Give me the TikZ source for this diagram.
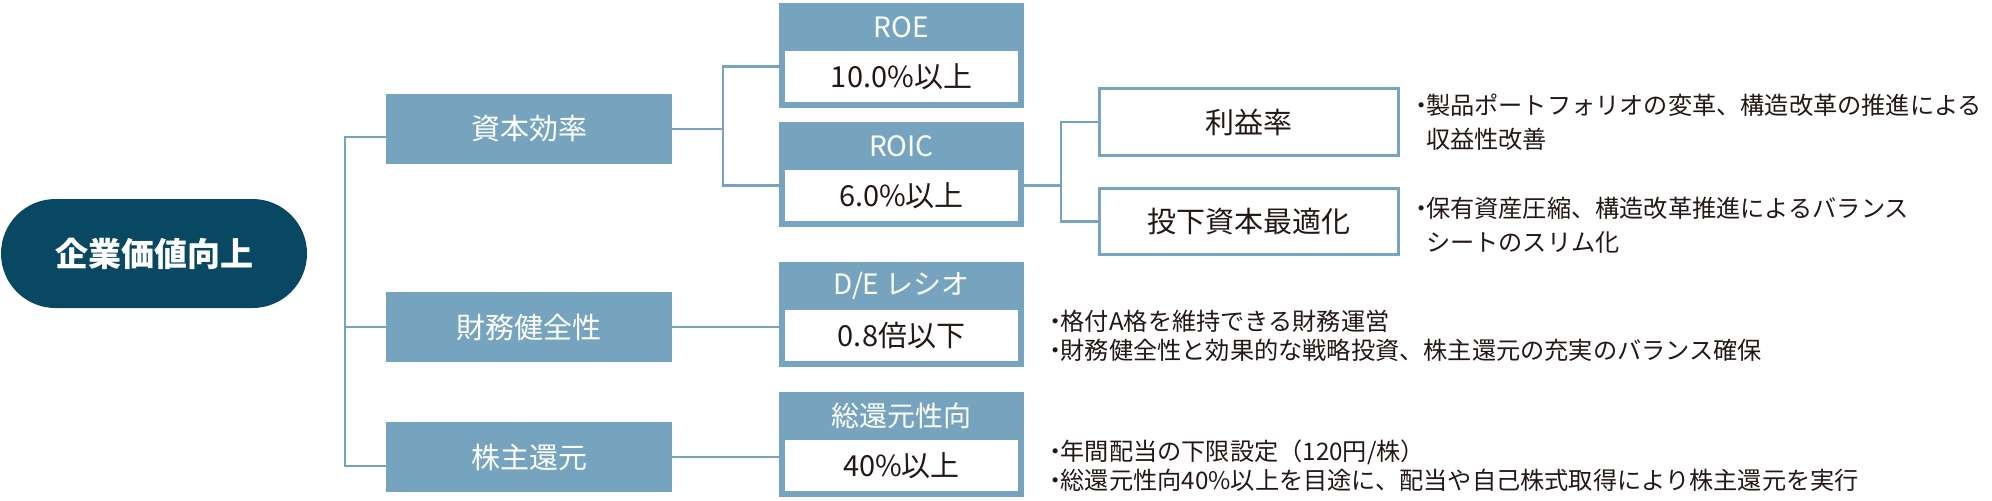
\documentclass[tikz,border=0pt]{standalone}
\usepackage{fontspec}
\setmainfont{Noto Sans CJK JP}
\usetikzlibrary{positioning}

\definecolor{navy}{RGB}{8,72,98}
\definecolor{steel}{RGB}{118,164,190}
\definecolor{ink}{RGB}{35,24,21}
\newcommand\notedot{\makebox[0.4em][c]{・}}

\begin{document}
\begin{tikzpicture}[x=0.5pt, y=-0.5pt,
	every node/.style={inner sep=0pt, outer sep=0pt},
	root/.style={fill=navy, text=white, rounded corners=27.25pt, minimum width=153pt, minimum height=54.5pt, font=\fontsize{16.5pt}{20pt}\selectfont\bfseries},
	pillar/.style={fill=steel, text=white, minimum width=143pt, minimum height=35pt, font=\fontsize{14.5pt}{17pt}\selectfont},
	kpihead/.style={fill=steel, text=white, minimum width=122.5pt, minimum height=24pt, font=\fontsize{14pt}{17pt}\selectfont},
	kpival/.style={draw=steel, fill=white, line width=3pt, text=ink, minimum width=119.5pt, minimum height=28.5pt, font=\fontsize{14.5pt}{17pt}\selectfont},
	lever/.style={draw=steel, line width=1.5pt, text=ink, minimum width=149.5pt, minimum height=33.25pt, font=\fontsize{14.5pt}{17pt}\selectfont},
	note/.style={text=ink, align=left, font=\fontsize{12.1pt}{17pt}\selectfont},
	tightnote/.style={note, font=\fontsize{12.1pt}{14.5pt}\selectfont},
	link/.style={draw=steel, line width=1.4pt}]

	\useasboundingbox (0,0) rectangle (1992,500);

	\node[root] (value) at (154,253.5) {企業価値向上};

	\node[pillar] (cap) at (529,129) {資本効率};
	\node[pillar] (fin) at (529,327) {財務健全性};
	\node[pillar] (ret) at (529,457) {株主還元};

	\node[kpihead] (roe) at (901.5,27) {ROE};
	\node[kpival] (roeval) at (901.5,76.5) {10.0\%以上};
	\node[kpihead] (roic) at (901.5,146) {ROIC};
	\node[kpival] (roicval) at (901.5,195.5) {6.0\%以上};
	\node[kpihead] (de) at (901.5,286) {D/E レシオ};
	\node[kpival] (deval) at (901.5,335.5) {0.8倍以下};
	\node[kpihead] (tsr) at (901.5,416) {総還元性向};
	\node[kpival] (tsrval) at (901.5,465.5) {40\%以上};

	\node[lever] (profit) at (1249,122) {利益率};
	\node[lever] (invest) at (1249,221.5) {投下資本最適化};

	\node[note, right=9pt of profit] (profitnote) {\notedot 製品ポートフォリオの変革、構造改革の推進による\\\hspace*{0.4em}収益性改善};
	\node[note, right=9pt of invest, yshift=-2pt] (investnote) {\notedot 保有資産圧縮、構造改革推進によるバランス\\\hspace*{0.4em}シートのスリム化};
	\node[tightnote, right=15pt of deval] (finnote) {\notedot 格付A格を維持できる財務運営\\\notedot 財務健全性と効果的な戦略投資、株主還元の充実のバランス確保};
	\node[tightnote, right=15pt of tsrval] (retnote) {\notedot 年間配当の下限設定（120円/株）\\\notedot 総還元性向40\%以上を目途に、配当や自己株式取得により株主還元を実行};

	\coordinate (trunk) at (345,0);
	\coordinate (split) at (723,0);
	\coordinate (split2) at (1061,0);
	\coordinate (capin) at ([yshift=-4pt]cap.west);
	\coordinate (retin) at ([yshift=-4.5pt]ret.west);
	\coordinate (roein) at ([yshift=5pt]roeval.west);
	\coordinate (roicin) at ([yshift=5pt]roicval.west);
	\coordinate (roicout) at ([yshift=5pt]roicval.east);

	\draw[link] (capin) -| (trunk |- retin) -- (retin);
	\draw[link] (fin.west) -- (fin.west -| trunk);
	\draw[link] (cap.east) -- (split |- cap.east);
	\draw[link] (roein) -| (split |- roicin) -- (roicin);
	\draw[link] (roicout) -- (split2 |- roicout);
	\draw[link] (profit.west) -| (split2 |- invest.west) -- (invest.west);
	\draw[link] (fin.east) -- (fin.east -| deval.west);
	\draw[link] (ret.east) -- (ret.east -| tsrval.west);
\end{tikzpicture}
\end{document}
